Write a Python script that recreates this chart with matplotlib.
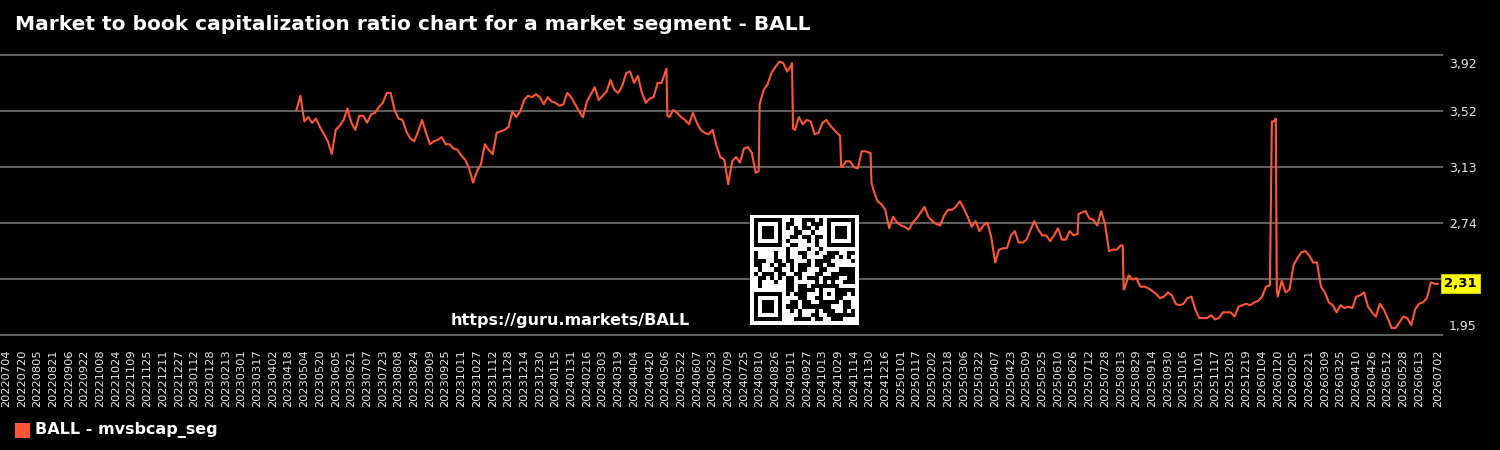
import hashlib
import numpy as np
import pandas as pd
import matplotlib
matplotlib.use("Agg")
import matplotlib.pyplot as plt
import matplotlib.dates as mdates
import matplotlib.transforms as mtransforms
from matplotlib.patches import Rectangle

# ---------------- data ----------------
title = "Market to book capitalization ratio chart for a market segment - BALL"
series_name = "BALL - mvsbcap_seg"
url_text = "https://guru.markets/BALL"

base_start = "2023-04-26"          # one reading every 4 days from here
base_values = [
    3.53, 3.63, 3.45, 3.48, 3.44, 3.47, 3.41, 3.36, 3.31, 3.22,
    3.39, 3.42, 3.46, 3.54, 3.44, 3.39, 3.49, 3.49, 3.44, 3.50,
    3.51, 3.55, 3.58, 3.65, 3.65, 3.53, 3.47, 3.46, 3.38, 3.33,
    3.31, 3.38, 3.46, 3.37, 3.29, 3.31, 3.32, 3.34, 3.29, 3.29,
    3.26, 3.25, 3.21, 3.18, 3.12, 3.02, 3.10, 3.15, 3.29, 3.25,
    3.22, 3.37, 3.38, 3.39, 3.41, 3.52, 3.48, 3.52, 3.60, 3.63,
    3.62, 3.64, 3.62, 3.57, 3.62, 3.59, 3.58, 3.56, 3.57, 3.65,
    3.62, 3.57, 3.52, 3.48, 3.59, 3.64, 3.69, 3.60, 3.63, 3.66,
    3.74, 3.67, 3.65, 3.70, 3.79, 3.80, 3.72, 3.77, 3.65, 3.58,
    3.61, 3.62, 3.72, 3.72, 3.80, 3.48, 3.53, 3.51, 3.48, 3.46,
    3.43, 3.51, 3.44, 3.39, 3.37, 3.36, 3.39, 3.28, 3.20, 3.18,
    3.01, 3.17, 3.20, 3.16, 3.26, 3.27, 3.23, 3.09, 3.57, 3.67,
    3.71, 3.79, 3.83, 3.87, 3.86, 3.80, 3.84, 3.39, 3.48, 3.43,
    3.46, 3.45, 3.36, 3.37, 3.44, 3.46, 3.42, 3.39, 3.36, 3.13,
    3.17, 3.17, 3.13, 3.12, 3.24, 3.24, 3.23, 2.97, 2.89, 2.87,
    2.83, 2.70, 2.78, 2.74, 2.72, 2.71, 2.69, 2.74, 2.77, 2.81,
    2.85, 2.78, 2.75, 2.73, 2.72, 2.79, 2.83, 2.83, 2.85, 2.89,
    2.84, 2.78, 2.71, 2.75, 2.68, 2.72, 2.74, 2.64, 2.46, 2.55,
    2.56, 2.56, 2.65, 2.68, 2.60, 2.60, 2.62, 2.69, 2.75, 2.69,
    2.65, 2.65, 2.61, 2.65, 2.70, 2.62, 2.62, 2.68, 2.65, 2.66,
    2.81, 2.82, 2.77, 2.76, 2.72, 2.82, 2.73, 2.54, 2.55, 2.55,
    2.58, 2.28, 2.37, 2.34, 2.35, 2.29, 2.29, 2.28, 2.26, 2.24,
    2.21, 2.22, 2.25, 2.23, 2.17, 2.16, 2.17, 2.21, 2.22, 2.13,
    2.07, 2.07, 2.07, 2.09, 2.06, 2.07, 2.11, 2.11, 2.11, 2.08,
    2.15, 2.16, 2.17, 2.16, 2.18, 2.19, 2.22, 2.29, 2.30, 3.45,
    2.22, 2.33, 2.25, 2.27, 2.44, 2.49, 2.53, 2.54, 2.51, 2.46,
    2.46, 2.29, 2.25, 2.18, 2.16, 2.11, 2.16, 2.14, 2.15, 2.14,
    2.22, 2.23, 2.25, 2.15, 2.11, 2.08, 2.17, 2.13, 2.07, 2.00,
    2.00, 2.04, 2.08, 2.07, 2.02, 2.13, 2.17, 2.18, 2.21, 2.32,
    2.31,
]

# extra daily readings around the sharp moves
extra_dates = [
    "2024-05-07", "2024-05-08", "2024-08-09", "2024-09-12", "2024-09-13",
    "2024-10-31", "2024-11-01", "2024-12-01", "2024-12-02", "2025-07-01",
    "2025-08-15", "2025-08-16", "2026-01-14", "2026-01-17", "2026-01-18",
    "2026-01-19", "2026-07-02",
]
extra_values = [
    3.82, 3.49, 3.10, 3.86, 3.40,
    3.35, 3.13, 3.23, 3.02, 2.80,
    2.58, 2.27, 3.45, 3.46, 3.47,
    2.27, 2.31,
]

last_value_label = "2,31"
x_start, x_last_regular, x_end = "2022-07-04", "2026-06-13", "2026-07-02"
y_min, y_max = 1.951, 3.916

# ---------------- build series ----------------
base_dates = pd.date_range(base_start, periods=len(base_values), freq="4D")
s = pd.concat([
    pd.Series(base_values, index=base_dates),
    pd.Series(extra_values, index=pd.to_datetime(extra_dates)),
]).sort_index()

tick_dates = list(pd.date_range(x_start, x_last_regular, freq="16D")) + [pd.Timestamp(x_end)]
tick_labels = [d.strftime("%Y%m%d") for d in tick_dates]
y_ticks = np.linspace(y_min, y_max, 6)
y_labels = ["1,95", "", "2,74", "3,13", "3,52", "3,92"]

# ---------------- figure ----------------
W, H = 1500, 450
fig = plt.figure(figsize=(W / 100, H / 100), dpi=100, facecolor="black")
ax = fig.add_axes([0, 1 - 335 / H, 1442 / W, 280 / H], facecolor="black")

line_color = "#ff5733"
ax.plot(s.index, s.values, color=line_color, lw=1.5, solid_joinstyle="round", zorder=3)

# x limits: first tick at 6 px, 0.9813 px per day, axes 1442 px wide
t0 = mdates.date2num(pd.Timestamp(x_start))
ppd = 0.9813
ax.set_xlim(t0 - 6 / ppd, t0 + (1442 - 6) / ppd)
ax.set_ylim(y_min, y_max)

ax.set_xticks(mdates.date2num(tick_dates))
ax.set_xticklabels(tick_labels, rotation=90, fontsize=8.2, color="#e6e6e6")
ax.tick_params(axis="x", length=0, pad=10.5)

ax.yaxis.tick_right()
ax.set_yticks(y_ticks)
ax.set_yticklabels(y_labels, fontsize=9, color="#e6e6e6")
ax.tick_params(axis="y", length=0, pad=5)
ylabs = ax.get_yticklabels()
ylabs[0].set_va("bottom")
ylabs[0].set_transform(ylabs[0].get_transform()
                       + mtransforms.ScaledTranslation(0, 2 / 100, fig.dpi_scale_trans))
ylabs[-1].set_va("top")
ylabs[-1].set_transform(ylabs[-1].get_transform()
                        + mtransforms.ScaledTranslation(0, -3 / 100, fig.dpi_scale_trans))

ax.grid(axis="y", color="#5e5e5e", lw=1.5, zorder=1)
ax.grid(axis="x", visible=False)
for gl in ax.get_ygridlines():
    gl.set_clip_on(False)
for sp in ax.spines.values():
    sp.set_visible(False)

# last value badge
ax.text(1.0015, s.values[-1], last_value_label, transform=ax.get_yaxis_transform(),
        ha="left", va="center", fontsize=9.5, fontweight="bold", color="black",
        bbox=dict(boxstyle="square,pad=0.22", fc="#ffff00", ec="#c8c800", lw=0.8),
        zorder=5, clip_on=False)

# title
fig.text(15 / W, 1 - 25 / H, title, color="white", fontsize=14.5, fontweight="bold",
         ha="left", va="center")

# url
fig.text(570 / W, 1 - 320 / H, url_text, color="white", fontsize=11.5, fontweight="bold",
         ha="center", va="center")

# QR-like decoration
n = 25
bits = ""
seed = url_text.encode()
while len(bits) < n * n:
    seed = hashlib.sha256(seed).digest()
    bits += "".join(f"{b:08b}" for b in seed)
qr = np.array([int(c) for c in bits[: n * n]]).reshape(n, n)


def finder(r, c):
    qr[r:r + 7, c:c + 7] = 1
    qr[r + 1:r + 6, c + 1:c + 6] = 0
    qr[r + 2:r + 5, c + 2:c + 5] = 1


for (r, c) in [(0, 0), (0, n - 7), (n - 7, 0)]:
    qr[max(r - 1, 0):min(r + 8, n), max(c - 1, 0):min(c + 8, n)] = 0
    finder(r, c)
qr[n - 9:n - 4, n - 9:n - 4] = 1
qr[n - 8:n - 5, n - 8:n - 5] = 0
qr[n - 7, n - 7] = 1
full = np.zeros((n + 2, n + 2))
full[1:-1, 1:-1] = qr
qax = fig.add_axes([750 / W, 1 - 325 / H, 109 / W, 110 / H])
qax.imshow(1 - full, cmap="gray", vmin=0, vmax=1, interpolation="nearest", aspect="auto")
qax.axis("off")

# legend
fig.patches.append(Rectangle((15 / W, 1 - 438 / H), 15 / W, 15 / H, transform=fig.transFigure,
                             facecolor=line_color, edgecolor="none"))
fig.text(35 / W, 1 - 430.5 / H, series_name, color="white", fontsize=11.5, fontweight="bold",
         ha="left", va="center")

fig.savefig("out.png", dpi=100, facecolor="black")
